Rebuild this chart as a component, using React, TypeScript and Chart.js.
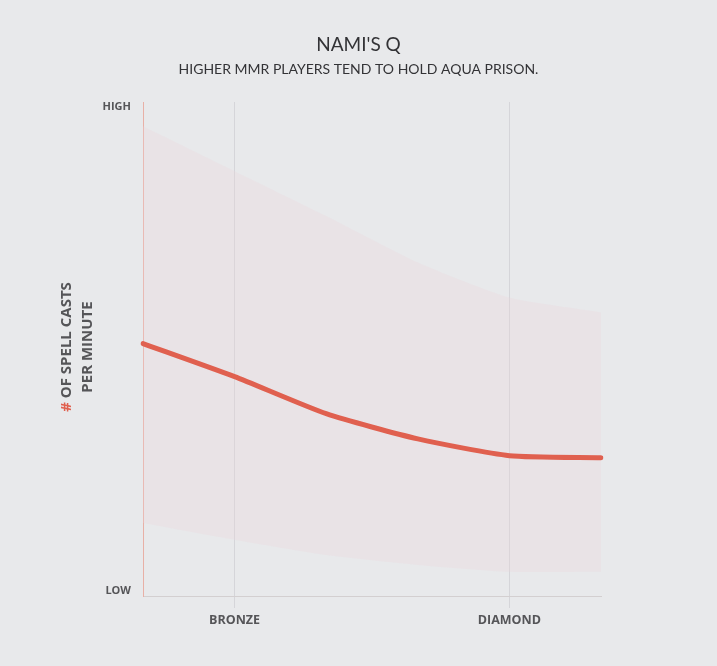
import React, { useEffect, useRef } from "react";
import { Chart, registerables } from "chart.js";

Chart.register(...registerables);

const ranks = ["", "BRONZE", "", "", "DIAMOND", ""];
const castRate = [51.1, 44.4, 36.9, 31.8, 28.4, 28.0];
const bandHigh = [95.1, 86.0, 76.9, 67.5, 60.4, 57.4];
const bandLow = [14.8, 11.4, 8.3, 6.3, 4.9, 4.9];
const yTickValues = [1, 99];
const yTickLabels = ["LOW", "HIGH"];
const yTitleLines = ["# OF SPELL CASTS", "PER MINUTE"];

const BG = "#e8e9eb";
const RED = "#e0604f";
const FONT = "Lato, 'Open Sans', sans-serif";
const AXFONT = "'Open Sans', Lato, sans-serif";

const yTitlePlugin = {
  id: "yTitleTwoTone",
  afterDraw(chart: any) {
    const { ctx, chartArea } = chart;
    const cy = (chartArea.top + chartArea.bottom) / 2 - 2;
    ctx.save();
    ctx.font = `bold 15px ${AXFONT}`;
    ctx.textBaseline = "middle";
    const xs = [67, 88];
    yTitleLines.forEach((line, i) => {
      ctx.save();
      ctx.translate(xs[i], cy);
      ctx.rotate(-Math.PI / 2);
      const w = ctx.measureText(line).width;
      let x = -w / 2;
      ctx.textAlign = "left";
      if (line.startsWith("#")) {
        ctx.fillStyle = RED;
        ctx.fillText("#", x, 0);
        x += ctx.measureText("# ").width;
        ctx.fillStyle = "#555558";
        ctx.fillText(line.slice(2), x, 0);
      } else {
        ctx.fillStyle = "#555558";
        ctx.fillText(line, x, 0);
      }
      ctx.restore();
    });
    ctx.restore();
  },
};

export default function App() {
  const ref = useRef<HTMLCanvasElement | null>(null);
  useEffect(() => {
    if (!ref.current) return;
    const chart = new Chart(ref.current, {
      type: "line",
      data: {
        labels: ranks,
        datasets: [
          {
            data: castRate,
            borderColor: RED,
            borderWidth: 5,
            pointRadius: 0,
            tension: 0.2,
            fill: false,
            borderCapStyle: "round",
            order: 0,
          },
          {
            data: bandHigh,
            borderColor: "rgba(0,0,0,0)",
            borderWidth: 0,
            pointRadius: 0,
            tension: 0.2,
            fill: "+1",
            backgroundColor: "rgba(236,212,218,0.28)",
            order: 1,
          },
          {
            data: bandLow,
            borderColor: "rgba(0,0,0,0)",
            borderWidth: 0,
            pointRadius: 0,
            tension: 0.2,
            fill: false,
            order: 2,
          },
        ],
      },
      options: {
        animation: false,
        responsive: false,
        maintainAspectRatio: false,
        layout: { padding: 0 },
        plugins: {
          legend: { display: false },
          tooltip: { enabled: false },
          title: {
            display: true,
            text: "NAMI'S Q",
            color: "#333336",
            font: { family: FONT, size: 19, weight: "normal" },
            padding: { top: 33, bottom: 0 },
          },
          subtitle: {
            display: true,
            text: "HIGHER MMR PLAYERS TEND TO HOLD AQUA PRISON.",
            color: "#333336",
            font: { family: FONT, size: 14, weight: "normal" },
            padding: { top: 5, bottom: 24.4 },
          },
        },
        scales: {
          x: {
            type: "category",
            offset: false,
            grid: {
              color: (c: any) =>
                c.tick && c.tick.label ? "rgba(200,200,205,0.6)" : "rgba(0,0,0,0)",
              lineWidth: 1,
              drawTicks: true,
              tickLength: 12,
            },
            border: { display: true, color: "#d3cfd0", width: 1 },
            ticks: {
              autoSkip: false,
              maxRotation: 0,
              padding: 5,
              color: "#555558",
              font: { family: AXFONT, size: 12.5, weight: "bold" },
            },
            afterFit: (s: any) => {
              s.height = 70;
              s.paddingRight = 116;
            },
          },
          y: {
            min: 0,
            max: 100,
            grid: { display: false },
            border: { display: true, color: "#e8b0a6", width: 1 },
            afterBuildTicks: (s: any) => {
              s.ticks = yTickValues.map((v) => ({ value: v }));
            },
            ticks: {
              padding: 4,
              color: "#555558",
              font: { family: AXFONT, size: 11, weight: "bold" },
              callback: (v: any) => {
                const i = yTickValues.indexOf(Number(v));
                return i >= 0 ? yTickLabels[i] : "";
              },
            },
            afterFit: (s: any) => {
              s.width = 143;
            },
          },
        },
      },
      plugins: [yTitlePlugin],
    } as any);
    return () => chart.destroy();
  }, []);
  return (
    <div
      style={{
        position: "fixed",
        left: 0,
        top: 0,
        width: 717,
        height: 666,
        background: BG,
      }}
    >
      <canvas ref={ref} width={717} height={666} style={{ display: "block" }} />
    </div>
  );
}
